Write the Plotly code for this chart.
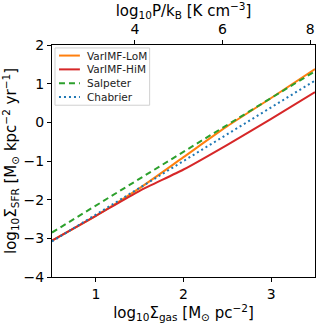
import plotly.graph_objects as go

log_sigma_gas = [0.5, 1.0, 1.5, 2.0, 2.5, 3.0, 3.5]
lom = [-3.06, -2.42, -1.70, -0.90, -0.10, 0.63, 1.38]
him = [-3.06, -2.42, -1.77, -1.22, -0.58, 0.09, 0.78]
salpeter = [-2.85, -2.15, -1.45, -0.76, -0.06, 0.63, 1.32]
chabrier = [-3.08, -2.39, -1.70, -1.00, -0.31, 0.39, 1.08]

series_names = ["VarIMF-LoM", "VarIMF-HiM", "Salpeter", "Chabrier"]
series_colors = ["#ff7f0e", "#d62728", "#2ca02c", "#1f77b4"]
series_dash = ["solid", "solid", "6px,4px", "2px,3px"]
series_vals = [lom, him, salpeter, chabrier]

x_range = [0.5, 3.5]
p_range = [2.11, 8.11]
y_range = [-4, 2]

font = "DejaVu Sans"
W, H = 323, 324
ML, MR, MT, MB = 52, 7, 45, 44
PW, PH = W - ML - MR, H - MT - MB


def px(xp):
    return (xp - ML) / PW


def py(yp):
    return 1 - (yp - MT) / PH


fig = go.Figure()
for name, col, dash, vals in zip(series_names, series_colors, series_dash, series_vals):
    line = dict(color=col, width=2, dash=dash)
    if dash == "solid":
        line.update(shape="spline", smoothing=0.6)
    fig.add_trace(go.Scatter(x=log_sigma_gas, y=vals, mode="lines", name=name,
                             line=line, showlegend=False))
# invisible trace for top axis
fig.add_trace(go.Scatter(x=p_range, y=[None, None], xaxis="x2", showlegend=False,
                         hoverinfo="skip"))

# custom legend (matplotlib-like)
shapes = [dict(type="rect", xref="paper", yref="paper", x0=px(55), x1=px(150),
               y0=py(106), y1=py(48), line=dict(color="#d0d0d0", width=1),
               fillcolor="rgba(255,255,255,0.85)", layer="above")]
annotations = []
for i, (name, col, dash) in enumerate(zip(series_names, series_colors, series_dash)):
    yc = 55.7 + 14 * i
    shapes.append(dict(type="line", xref="paper", yref="paper", x0=px(59), x1=px(80),
                       y0=py(yc), y1=py(yc), line=dict(color=col, width=2, dash=dash),
                       layer="above"))
    annotations.append(dict(xref="paper", yref="paper", x=px(85), y=py(yc), text=name,
                            showarrow=False, xanchor="left", yanchor="middle",
                            font=dict(family=font, size=10.5, color="#222222")))

axis_common = dict(showline=True, linecolor="black", linewidth=1, ticks="outside",
                   ticklen=4, tickcolor="black", showgrid=False, zeroline=False,
                   tickfont=dict(family=font, size=14, color="black"))

fig.update_layout(
    width=W, height=H,
    margin=dict(l=ML, r=MR, t=MT, b=MB),
    plot_bgcolor="white", paper_bgcolor="white",
    font=dict(family=font, color="black"),
    xaxis=dict(range=x_range, tickvals=[1, 2, 3], mirror=True,
               title=dict(text="log<sub>10</sub>Σ<sub>gas</sub> [M<sub>⊙</sub> pc<sup>−2</sup>]",
                          font=dict(size=15), standoff=5),
               **axis_common),
    xaxis2=dict(range=p_range, tickvals=[4, 6, 8], overlaying="x", side="top",
                title=dict(text="log<sub>10</sub>P/k<sub>B</sub> [K cm<sup>−3</sup>]",
                           font=dict(size=15), standoff=3),
                **axis_common),
    yaxis=dict(range=y_range, tickvals=[-4, -3, -2, -1, 0, 1, 2],
               ticktext=["−4", "−3", "−2", "−1", "0", "1", "2"], mirror=True,
               title=dict(text="log<sub>10</sub>Σ<sub>SFR</sub> [M<sub>⊙</sub> kpc<sup>−2</sup> yr<sup>−1</sup>]",
                          font=dict(size=15), standoff=3),
               **axis_common),
    shapes=shapes,
    annotations=annotations,
    showlegend=False,
)

fig.write_html("out.html")
